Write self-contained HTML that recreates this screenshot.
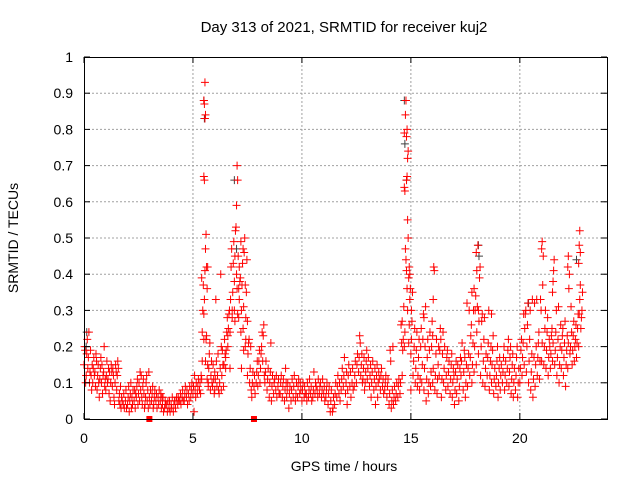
<!DOCTYPE html>
<html><head><meta charset="utf-8"><style>
body{margin:0;background:#fff;}
svg{display:block;font-family:"Liberation Sans",sans-serif;}
</style></head><body>
<svg id="chart" width="640" height="480" viewBox="0 0 640 480">
<text x="344" y="32" text-anchor="middle" font-size="15" fill="#000">Day 313 of 2021, SRMTID for receiver kuj2</text>
<text x="0" y="0" transform="translate(18,238) rotate(-90)" text-anchor="middle" font-size="14">SRMTID / TECUs</text>
<text x="344" y="471" text-anchor="middle" font-size="14">GPS time / hours</text>
<g id="grid"></g><g id="marks"></g><g id="axes"></g>
</svg>
<script>
const xTicks=[0,5,10,15,20];
const yTicks=[0,0.1,0.2,0.3,0.4,0.5,0.6,0.7,0.8,0.9,1];
const yTickLabels=["0","0.1","0.2","0.3","0.4","0.5","0.6","0.7","0.8","0.9","1"];
// each row: [hour, values...]
const srmtidRows=[
[0.0,.15,.2,.19,.1],[0.1,.12,.18,.22,.14],[0.2,.17,.24,.1,.13],[0.3,.19,.12,.08,.15],[0.4,.1,.14,.17,.12],[0.5,.13,.09,.18,.16],[0.6,.08,.12,.15,.1],[0.7,.06,.11,.14,.17],[0.8,.1,.15,.07,.12],[0.9,.13,.2,.09,.11],
[1.0,.08,.12,.16,.1],[1.1,.11,.14,.07,.13],[1.2,.05,.1,.15,.13],[1.3,.09,.14,.12,.06],[1.4,.04,.1,.15,.13],[1.5,.08,.12,.16,.14],[1.6,.05,.07,.04,.09],[1.7,.03,.06,.05],[1.8,.04,.07,.03],[1.9,.05,.08,.03],
[2.0,.04,.06,.09,.02],[2.1,.05,.07,.1,.03],[2.2,.06,.04,.08],[2.3,.05,.08,.03,.07],[2.4,.06,.09,.11,.04],[2.5,.07,.1,.05,.13],[2.6,.08,.12,.06,.04],[2.7,.09,.11,.07,.03],[2.8,.04,.06,.1,.12],[2.9,.05,.08,.03,.13],
[3.0,.06,.04,.08],[3.1,.05,.07,.09,.03],[3.2,.04,.06,.08],[3.3,.05,.07,.03],[3.4,.06,.04,.08],[3.5,.05,.07,.03,.06],[3.6,.04,.06,.02],[3.7,.03,.05,.04],[3.8,.04,.02,.05],[3.9,.03,.05,.02],
[4.0,.04,.03,.06],[4.1,.02,.04,.05],[4.2,.03,.05,.06],[4.3,.04,.06,.05],[4.4,.05,.07,.04],[4.5,.06,.08,.05],[4.6,.05,.07,.09],[4.7,.06,.08,.04],[4.8,.07,.05,.09],[4.9,.06,.08,.1],
[5.0,.07,.09,.02,.12],[5.1,.08,.06,.1],[5.2,.07,.09,.11],[5.3,.08,.1,.07,.12],[5.4,.11,.24,.3,.37,.39,.16],[5.5,.29,.33,.41,.47,.67,.66,.83,.84,.88,.87,.93,.16,.22],[5.6,.22,.23,.36,.42,.51,.42,.11,.15],[5.7,.1,.14,.18,.21,.09],[5.8,.08,.12,.16,.1],[5.9,.09,.15,.11,.07],
[6.0,.08,.11,.33,.16,.13],[6.1,.09,.12,.18,.08],[6.2,.07,.1,.14,.4],[6.3,.08,.12,.19,.15,.2],[6.4,.09,.15,.22,.18],[6.5,.14,.19,.24,.28,.17],[6.6,.2,.25,.29,.3,.23],[6.7,.24,.33,.42,.47,.14],[6.8,.28,.35,.43,.49,.3],[6.9,.3,.45,.52,.53,.38,.27],
[7.0,.59,.7,.66,.45,.4,.36,.29],[7.1,.28,.33,.38,.39,.36,.42],[7.2,.24,.3,.37,.43,.49,.14],[7.3,.25,.31,.46,.5,.47,.19],[7.4,.2,.28,.35,.44,.37,.22],[7.5,.12,.18,.21,.22,.27],[7.6,.1,.14,.2,.08],[7.7,.06,.1,.13],[7.8,.09,.12,.07],[7.9,.1,.13,.16,.09],
[8.0,.12,.16,.19,.1],[8.1,.14,.18,.2,.24],[8.2,.16,.23,.26,.12],[8.3,.1,.13,.16],[8.4,.08,.11,.14],[8.5,.06,.1,.13,.21],[8.6,.05,.09,.12],[8.7,.07,.1,.11],[8.8,.08,.12,.06],[8.9,.09,.11,.07],
[9.0,.07,.1,.12],[9.1,.06,.09,.11],[9.2,.05,.08,.14,.1],[9.3,.06,.08,.1],[9.4,.03,.07,.09],[9.5,.05,.08,.11],[9.6,.06,.09,.12],[9.7,.05,.07,.1],[9.8,.06,.09,.11],[9.9,.07,.1,.08],
[10.0,.05,.08,.1],[10.1,.06,.09,.07],[10.2,.07,.05,.1],[10.3,.06,.08,.11],[10.4,.07,.09,.05],[10.5,.06,.08,.13],[10.6,.07,.1,.09],[10.7,.08,.06,.11],[10.8,.07,.09,.1],[10.9,.06,.08,.11],
[11.0,.07,.09,.05],[11.1,.06,.08,.1],[11.2,.04,.07,.09],[11.3,.02,.05,.08],[11.4,.02,.03,.06],[11.5,.04,.07,.1],[11.6,.06,.09,.12],[11.7,.07,.1,.05],[11.8,.08,.11,.14],[11.9,.09,.12,.17],
[12.0,.07,.1,.13,.04],[12.1,.08,.12,.15],[12.2,.09,.13,.06],[12.3,.1,.14,.08],[12.4,.09,.12,.16],[12.5,.1,.15,.18],[12.6,.13,.17,.23,.21],[12.7,.12,.15,.18,.1],[12.8,.11,.14,.17,.08],[12.9,.1,.13,.16,.19],
[13.0,.11,.14,.17],[13.1,.09,.12,.15,.06],[13.2,.1,.13,.16],[13.3,.08,.11,.14,.04],[13.4,.09,.12,.15,.06],[13.5,.1,.13,.11],[13.6,.08,.12,.14],[13.7,.09,.11,.07],[13.8,.08,.1,.12],[13.9,.06,.09,.11],
[14.0,.04,.07,.19,.16],[14.1,.03,.05,.08,.2],[14.2,.04,.06,.09],[14.3,.05,.07,.1],[14.4,.06,.09,.11],[14.5,.07,.1,.26,.21],[14.6,.12,.19,.22,.31,.27],[14.7,.2,.24,.47,.44,.64,.63,.84,.88,.79],[14.8,.78,.8,.72,.74,.66,.67,.55,.5,.41,.36,.3],[14.9,.21,.26,.4,.36,.39,.42,.33],
[15.0,.18,.22,.27,.35,.08,.3],[15.1,.12,.16,.2,.25],[15.2,.1,.14,.19,.24],[15.3,.09,.12,.17,.22],[15.4,.08,.11,.2,.25],[15.5,.1,.15,.22,.29],[15.6,.08,.14,.2,.31,.28],[15.7,.05,.11,.17,.22],[15.8,.07,.1,.19,.24],[15.9,.09,.13,.2,.27],
[16.0,.1,.14,.42,.41,.23,.33],[16.1,.08,.12,.18,.22],[16.2,.07,.11,.15,.2],[16.3,.12,.19,.25,.22],[16.4,.06,.11,.18,.24],[16.5,.1,.14,.2],[16.6,.08,.12,.17,.19],[16.7,.09,.13,.16],[16.8,.07,.11,.15,.18],[16.9,.06,.1,.14,.12],
[17.0,.04,.08,.13,.16],[17.1,.07,.11,.15],[17.2,.05,.09,.14,.17],[17.3,.12,.16,.21],[17.4,.08,.13,.19,.17],[17.5,.06,.1,.15,.32],[17.6,.09,.14,.18,.3],[17.7,.12,.17,.23,.26],[17.8,.1,.15,.21,.3,.35],[17.9,.13,.2,.3,.34,.36],
[18.0,.15,.24,.31,.48,.46,.41],[18.1,.18,.27,.39,.42,.3],[18.2,.12,.2,.27,.29],[18.3,.1,.16,.22,.28],[18.4,.09,.14,.18],[18.5,.12,.17,.21,.3],[18.6,.08,.12,.16,.2],[18.7,.1,.15,.19,.23,.29],[18.8,.07,.11,.14],[18.9,.09,.12,.16,.2],
[19.0,.06,.1,.14,.17],[19.1,.08,.12,.15],[19.2,.1,.13,.17,.2],[19.3,.08,.12,.16],[19.4,.1,.14,.19,.22],[19.5,.09,.13,.17,.2],[19.6,.07,.11,.15,.18],[19.7,.06,.1,.14],[19.8,.08,.12,.17,.2],[19.9,.06,.1,.14],
[20.0,.1,.14,.19,.22],[20.1,.12,.17,.21,.29],[20.2,.15,.25,.29,.3],[20.3,.13,.2,.26,.32],[20.4,.1,.16,.22,.3],[20.5,.08,.13,.18,.33],[20.6,.06,.11,.17,.32],[20.7,.09,.15,.2,.33],[20.8,.12,.17,.21,.24],[20.9,.11,.16,.33,.3],
[21.0,.16,.21,.37,.45,.47,.49],[21.1,.15,.2,.25,.3],[21.2,.14,.19,.24,.28],[21.3,.12,.17,.22,.2],[21.4,.14,.18,.23,.25],[21.5,.16,.21,.41,.44,.35,.38],[21.6,.15,.19,.24,.3],[21.7,.12,.17,.22,.31],[21.8,.1,.15,.2,.26],[21.9,.14,.19,.23,.25],
[22.0,.12,.17,.21,.27],[22.1,.09,.15,.19,.23],[22.2,.14,.21,.36,.4,.42,.45],[22.3,.18,.2,.31,.24],[22.4,.15,.19,.23,.27],[22.5,.16,.2,.22,.26],[22.6,.17,.21,.25,.29],[22.7,.2,.29,.33,.37,.43,.48,.52,.46],[22.8,.25,.28,.3,.35]
];
const grayRows=[[0.1,.2,.24],[5.5,.88,.83],[6.9,.66],[7.0,.47],[14.7,.88,.76],[14.8,.66],[18.1,.48,.45],[20.4,.32],[22.6,.44]];
const squareHours=[3.0,7.8];
const squareVals=[0,0];

const X0=84,X1=607,Y0=419,Y1=57,XMAX=24;
const sx=h=>X0+(X1-X0)*h/XMAX;
const sy=v=>Y0-(Y0-Y1)*v;
const NS='http://www.w3.org/2000/svg';
function mk(tag,attrs,parent){const e=document.createElementNS(NS,tag);for(const k in attrs)e.setAttribute(k,attrs[k]);parent.appendChild(e);return e;}
const grid=document.getElementById('grid'),marks=document.getElementById('marks'),axes=document.getElementById('axes');
xTicks.forEach(t=>{const x=sx(t);
 if(t>0){const g=mk('line',{x1:x,x2:x,y1:Y1,y2:Y0,stroke:'#a0a0a0','stroke-dasharray':'2,2','stroke-width':1},grid);
 
 }
 mk('line',{x1:x,x2:x,y1:Y0,y2:Y0-6,stroke:'#000'},axes);
 mk('line',{x1:x,x2:x,y1:Y1,y2:Y1+6,stroke:'#000'},axes);
 const tl=mk('text',{x:x,y:Y0+24,'text-anchor':'middle','font-size':14},axes);tl.textContent=String(t);
 
 
});
yTicks.forEach((t,i)=>{const y=sy(t);
 if(i>0&&i<yTicks.length-1){const g=mk('line',{x1:X0,x2:X1,y1:y,y2:y,stroke:'#a0a0a0','stroke-dasharray':'2,2','stroke-width':1},grid);
 
 }
 mk('line',{x1:X0,x2:X0+6,y1:y,y2:y,stroke:'#000'},axes);
 mk('line',{x1:X1,x2:X1-6,y1:y,y2:y,stroke:'#000'},axes);
 const tl=mk('text',{x:X0-11,y:y+5,'text-anchor':'end','font-size':14},axes);tl.textContent=yTickLabels[i];
 
 
});
const fr=mk('rect',{x:X0+.5,y:Y1+.5,width:X1-X0,height:Y0-Y1,fill:'none',stroke:'#000'},axes);


function plus(h,v,color,name){const x=sx(h),y=sy(v);
 const p=mk('path',{d:`M${x-4},${y}h8M${x},${y-4}v8`,stroke:color,'stroke-width':1,fill:'none'},marks);
 
 }
grayRows.forEach(r=>{for(let j=1;j<r.length;j++)plus(r[0]+((j-1)%4)*0.025,r[j],'#404040','gray-point');});
srmtidRows.forEach(r=>{for(let j=1;j<r.length;j++)plus(r[0]+((j-1)%4)*0.025,r[j],'#ff0000','srmtid-point');});
squareHours.forEach((h,i)=>{const s=mk('rect',{x:sx(h)-3,y:sy(squareVals[i])-3,width:6,height:6,fill:'#ff0000'},marks);
 
 });
</script>
</body></html>
